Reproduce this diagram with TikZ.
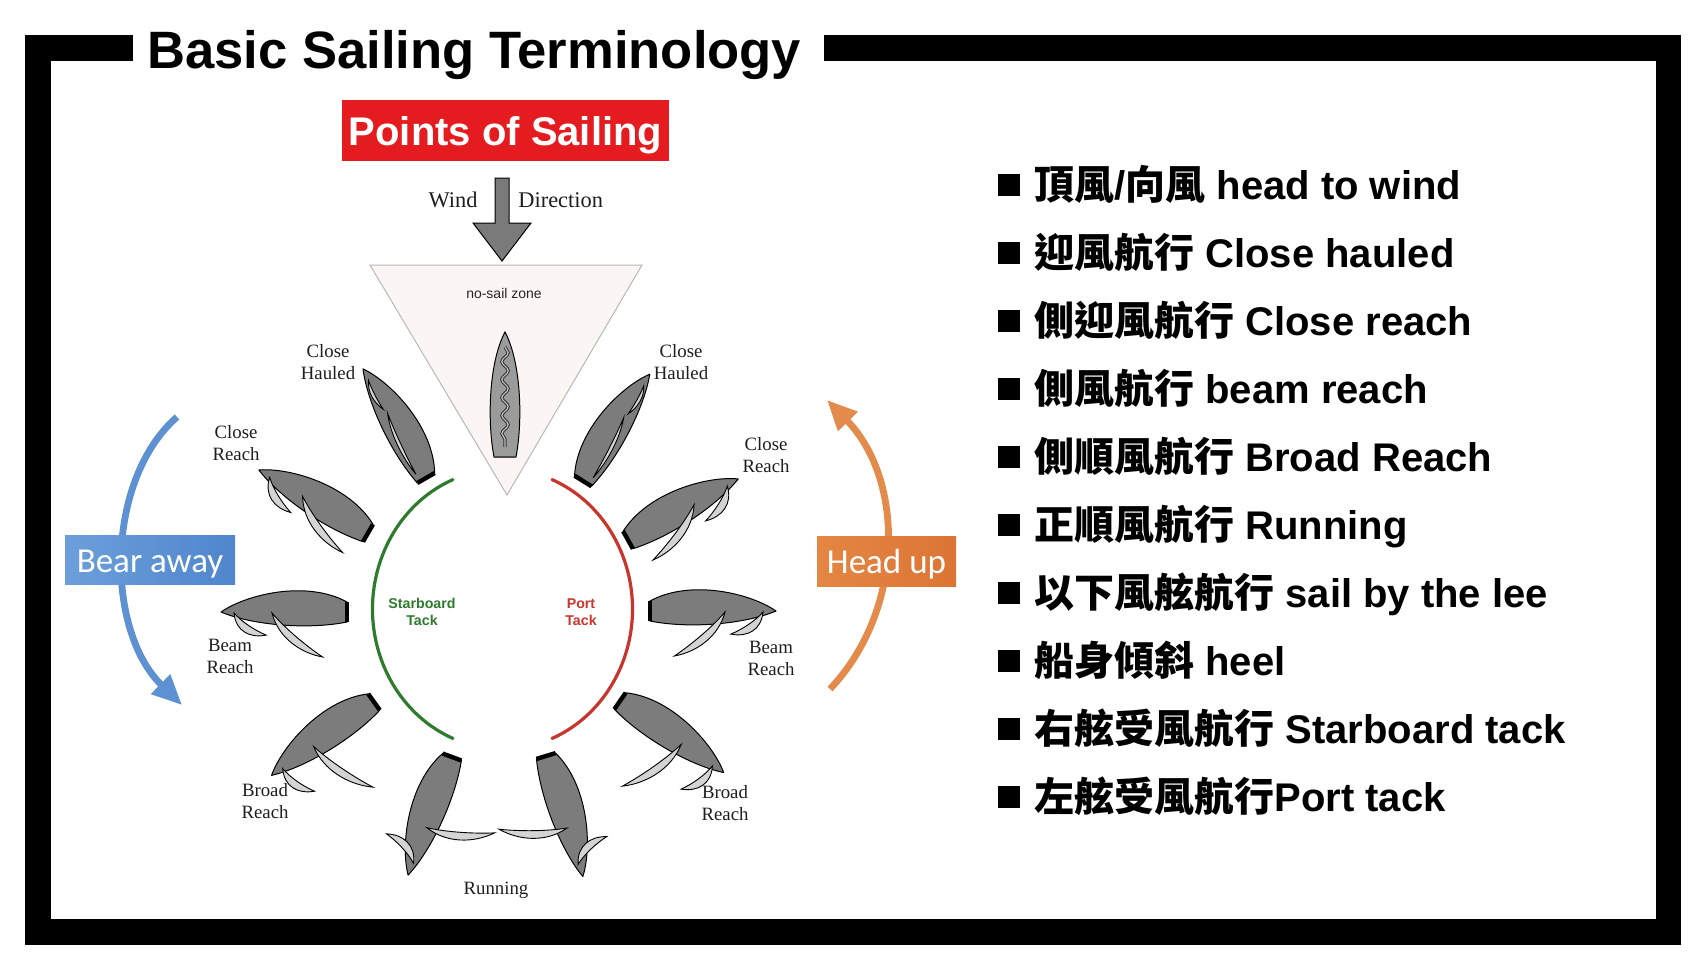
\documentclass[tikz,border=0pt]{standalone}
\usepackage{fontspec}
\setmainfont{Liberation Sans}
\newfontfamily\serif{Liberation Serif}
\newfontfamily\cjk{Noto Sans CJK TC}
\newfontfamily\calfont{Carlito}
\usetikzlibrary{arrows.meta,decorations.pathmorphing}
\definecolor{hullgray}{HTML}{7C7C7C}
\definecolor{sailgray}{HTML}{D4D4D4}
\definecolor{labelc}{HTML}{1E1E1E}
\definecolor{posred}{HTML}{E41B1F}
\definecolor{stbgreen}{HTML}{2E7B2E}
\definecolor{portred}{HTML}{C8352D}
\definecolor{bearL}{HTML}{6C9FDB}
\definecolor{bearR}{HTML}{4F86CC}
\definecolor{bearA}{HTML}{5E91D2}
\definecolor{headL}{HTML}{E58643}
\definecolor{headR}{HTML}{DC7533}
\definecolor{headA}{HTML}{E38B4A}
\definecolor{zonefill}{HTML}{FBF6F3}
\definecolor{zoneedge}{HTML}{B8B8B8}
\definecolor{windgray}{HTML}{7A7A7A}
\definecolor{cboat}{HTML}{9B9B9B}
% sail: start point, direction, length, bulge factor
\newcommand\sailshape[4]{%
\begin{scope}[shift={#1},rotate=-(#2)]
\filldraw[sailst] (0,0) .. controls ({0.3*#3},{14*#4}) and ({0.7*#3},{12*#4}) .. (#3,0) .. controls ({0.7*#3},{2.5*#4}) and ({0.3*#3},{3*#4}) .. cycle;
\end{scope}}
% boat: stern x, stern y, heading, mirror, main angle, main length, jib angle, jib length, bulge
\newcommand\boat[9]{%
\begin{scope}[shift={(#1,#2)},rotate=-(#3),yscale=#4]
\filldraw[hull] (0,10) .. controls (40,32) and (100,18) .. (126,0) .. controls (95,-13) and (40,-18) .. (0,-10) -- cycle;
\draw[line width=2.2pt] (0,-10) -- (0,10);
\sailshape{(75,-1)}{180+#5}{#6}{#9}
\sailshape{(113,-1)}{#7}{#8}{#9}
\end{scope}}
\begin{document}
\begin{tikzpicture}[x=0.5pt,y=-0.5pt,
  hull/.style={fill=hullgray,draw=black,line width=0.5pt,line join=round},
  sailst/.style={fill=sailgray,draw=black,line width=0.45pt},
  lbl/.style={font=\serif\fontsize{9.4}{11}\selectfont,align=center,text=labelc,inner sep=0pt},
  li/.style={anchor=base west,inner sep=0pt,font=\fontsize{20}{24}\selectfont\bfseries},
  bullet/.style={fill=black,minimum size=11pt,inner sep=0pt,draw=none},
  framebar/.style={fill=black},
  tack/.style={font=\fontsize{7.1}{8.5}\selectfont\bfseries,align=center,inner sep=0pt}]

\fill[white] (0,0) rectangle (1706,960);
\useasboundingbox (0,0) rectangle (1706,960);

% frame
\fill[framebar] (25,35) rectangle (133,61);
\fill[framebar] (824,35) rectangle (1681,61);
\fill[framebar] (25,35) rectangle (51,945);
\fill[framebar] (1656,35) rectangle (1681,945);
\fill[framebar] (25,919) rectangle (1681,945);

% title
\node[anchor=base west,inner sep=0pt,font=\fontsize{26.3}{30}\selectfont\bfseries] (title) at (147,68) {Basic Sailing Terminology};

% points of sailing
\node[fill=posred,text=white,minimum width=163.5pt,minimum height=30.5pt,inner sep=0pt,text height=14.5pt,text depth=0pt,font=\fontsize{20}{24}\selectfont\bfseries] (pos) at (505.5,130.5) {Points of Sailing};

% wind arrow
\filldraw[fill=windgray,draw=black,line width=0.5pt,line join=miter] (495,178) -- (509,178) -- (509,223) -- (531,223) -- (502,261) -- (473,223) -- (495,223) -- cycle;
\node[anchor=base east,inner sep=0pt,font=\serif\fontsize{11.2}{13}\selectfont,text=labelc] (wind) at (478,207) {Wind};
\node[anchor=base west,inner sep=0pt,font=\serif\fontsize{11.2}{13}\selectfont,text=labelc] (dir) at (518,207) {Direction};

% no-sail zone
\filldraw[fill=zonefill,draw=zoneedge,line width=0.5pt] (370,265) -- (642,265) -- (507,495) -- cycle;
\node[inner sep=0pt,font=\fontsize{7}{8}\selectfont,text=black!85] (nsz) at (504,293) {no-sail zone};

% centre boat
\filldraw[fill=cboat,draw=black,line width=0.5pt] (494,457) .. controls (487,420) and (489,362) .. (505,332) .. controls (521,362) and (523,420) .. (516,457) -- cycle;
\draw[line width=1.2pt,black!70] (494,457) -- (516,457);
\draw[decorate,decoration={snake,amplitude=1.6pt,segment length=9pt},line width=1.6pt,black!80] (505,347) -- (505,447);
\draw[decorate,decoration={snake,amplitude=1.6pt,segment length=9pt},line width=0.6pt,black!25] (505,347) -- (505,447);

% tack arcs
\coordinate (C) at (502.5,609);
\draw[stbgreen,line width=1.6pt,line cap=round] (C) ++(247.6:130 and 140) arc[start angle=247.6,end angle=112.4,x radius=130,y radius=140];
\draw[portred,line width=1.6pt,line cap=round] (C) ++(-67.6:130 and 140) arc[start angle=-67.6,end angle=67.6,x radius=130,y radius=140];
\node[tack,text=stbgreen] (stb) at (422,612) {Starboard\\Tack};
\node[tack,text=portred] (port) at (581,612) {Port\\Tack};

% boats
\boat{426}{478}{240}{1}{5}{67}{183}{32}{0.45}
\boat{368}{533}{210}{1}{24.5}{69}{209}{41}{1}
\boat{347}{612}{180}{1}{41}{67}{214.5}{39}{1}
\boat{374}{702}{144.4}{1}{70}{72}{251}{39}{1}
\boat{452}{757}{110.4}{1}{74}{68}{117}{40}{1}
\boat{583}{481}{302}{-1}{5}{67}{183}{32}{0.45}
\boat{628}{540}{331}{-1}{24.5}{69}{209}{41}{1}
\boat{650}{611}{0}{-1}{41}{67}{214.5}{39}{1}
\boat{620}{701}{34.6}{-1}{70}{72}{251}{39}{1}
\boat{546}{756}{73}{-1}{74}{68}{117}{40}{1}

% boat labels
\node[lbl] (chl) at (328,362) {Close\\Hauled};
\node[lbl] (crl) at (236,443) {Close\\Reach};
\node[lbl] (brl) at (230,656) {Beam\\Reach};
\node[lbl] (bdl) at (265,801) {Broad\\Reach};
\node[lbl] (run) at (496,890) {Running};
\node[lbl] (chr) at (681,362) {Close\\Hauled};
\node[lbl] (crr) at (766,455) {Close\\Reach};
\node[lbl] (brr) at (771,658) {Beam\\Reach};
\node[lbl] (bdr) at (725,803) {Broad\\Reach};

% bear away / head up
\coordinate (ba1) at (177,417);
\coordinate (ba2) at (182,705);
\draw[bearA,line width=3.4pt,-{Triangle[length=15pt,width=13pt]}] (ba1) .. controls (105,480) and (105,630) .. (ba2);
\node[left color=bearL,right color=bearR,text=white,minimum width=85pt,minimum height=24.5pt,inner sep=0pt,text height=12.5pt,text depth=0pt,font=\calfont\fontsize{17.5}{20}\selectfont] (bear) at (150,559.5) {Bear away};
\coordinate (hu1) at (830,689);
\coordinate (hu2) at (827,400);
\draw[headA,line width=3.4pt,-{Triangle[length=15pt,width=13pt]}] (hu1) .. controls (905,610) and (905,480) .. (hu2);
\node[left color=headL,right color=headR,text=white,minimum width=69.5pt,minimum height=25pt,inner sep=0pt,text height=12.5pt,text depth=0pt,font=\calfont\fontsize{17.5}{20}\selectfont] (head) at (886.5,561) {Head up};

% terminology list
\foreach \i in {0,...,9} {
  \node[bullet] (sq\i) at (1009,{185+68*\i}) {};
}
\node[li] (t0) at (1034,199) {{\cjk 頂風}/{\cjk 向風} head to wind};
\node[li] (t1) at (1034,267) {{\cjk 迎風航行} Close hauled};
\node[li] (t2) at (1034,335) {{\cjk 側迎風航行} Close reach};
\node[li] (t3) at (1034,403) {{\cjk 側風航行} beam reach};
\node[li] (t4) at (1034,471) {{\cjk 側順風航行} Broad Reach};
\node[li] (t5) at (1034,539) {{\cjk 正順風航行} Running};
\node[li] (t6) at (1034,607) {{\cjk 以下風舷航行} sail by the lee};
\node[li] (t7) at (1034,675) {{\cjk 船身傾斜} heel};
\node[li] (t8) at (1034,743) {{\cjk 右舷受風航行} Starboard tack};
\node[li] (t9) at (1034,811) {{\cjk 左舷受風航行}Port tack};
\end{tikzpicture}
\end{document}
